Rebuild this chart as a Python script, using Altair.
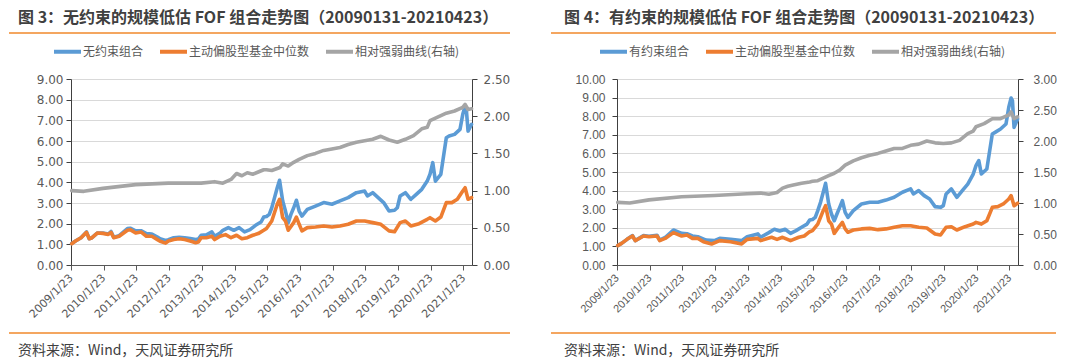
import altair as alt
import pandas as pd

CJK = "Noto Sans CJK SC"
BLUE, ORANGE, GRAY = "#5B9BD5", "#ED7D31", "#A5A5A5"
RULE_COLOR = "#F0892B"

TITLE_L = "图 3：无约束的规模低估 FOF 组合走势图（20090131-20210423）"
TITLE_R = "图 4：有约束的规模低估 FOF 组合走势图（20090131-20210423）"
SOURCE = "资料来源：Wind，天风证券研究所"
NAMES_L = ["无约束组合", "主动偏股型基金中位数", "相对强弱曲线(右轴)"]
NAMES_R = ["有约束组合", "主动偏股型基金中位数", "相对强弱曲线(右轴)"]
YEARS = list(range(2009, 2022))

# ---------------- left panel (图3) ----------------
L_BLUE_D = ["2009-01-31", "2009-03", "2009-05", "2009-07", "2009-08", "2009-09", "2009-11",
            "2010-01", "2010-03", "2010-04", "2010-05", "2010-07", "2010-10", "2010-11",
            "2011-01", "2011-03", "2011-05", "2011-07", "2011-09", "2011-10", "2011-12",
            "2012-01", "2012-03", "2012-05", "2012-07", "2012-09", "2012-11", "2012-12",
            "2013-01", "2013-03", "2013-05", "2013-06", "2013-08", "2013-09", "2013-11",
            "2014-01", "2014-03", "2014-05", "2014-07", "2014-09", "2014-11", "2014-12",
            "2015-01", "2015-02", "2015-03", "2015-04", "2015-05", "2015-06-10", "2015-07",
            "2015-08", "2015-09", "2015-10", "2015-11", "2015-12",
            "2016-01", "2016-02", "2016-04", "2016-07", "2016-10",
            "2017-01", "2017-04", "2017-07", "2017-10",
            "2018-01", "2018-02", "2018-04", "2018-06", "2018-08", "2018-10", "2018-12",
            "2019-01", "2019-02", "2019-04", "2019-06", "2019-08", "2019-10", "2019-12",
            "2020-01", "2020-02", "2020-03", "2020-05", "2020-07", "2020-08", "2020-10", "2020-12",
            "2021-01", "2021-02-10", "2021-02-25", "2021-03", "2021-04-23"]
L_BLUE_V = [1.04, 1.16, 1.32, 1.60, 1.27, 1.32, 1.55,
            1.55, 1.50, 1.62, 1.34, 1.42, 1.76, 1.78,
            1.65, 1.66, 1.52, 1.50, 1.35, 1.27, 1.19,
            1.22, 1.32, 1.34, 1.32, 1.28, 1.23, 1.26,
            1.44, 1.46, 1.60, 1.39, 1.55, 1.68, 1.81,
            1.68, 1.81, 1.60, 1.71, 1.92, 2.08, 2.32,
            2.35, 2.45, 2.77, 3.26, 3.74, 4.10, 3.10,
            2.61, 2.05, 2.45, 2.77, 3.13,
            2.61, 2.37, 2.69, 2.85, 3.02,
            2.94, 3.10, 3.26, 3.50,
            3.58, 3.34, 3.50, 3.26, 3.02, 2.61, 2.65,
            2.77, 3.34, 3.50, 3.18, 3.42, 3.66, 4.06,
            4.39, 4.95, 4.06, 4.39, 6.16, 6.24, 6.32, 6.56,
            7.29, 7.69, 7.45, 6.48, 6.81]

L_ORANGE_D = ["2009-01-31", "2009-03", "2009-05", "2009-07", "2009-08", "2009-09", "2009-11",
              "2010-01", "2010-03", "2010-04", "2010-05", "2010-07", "2010-10", "2010-11",
              "2011-01", "2011-03", "2011-05", "2011-07", "2011-09", "2011-10", "2011-12",
              "2012-01", "2012-03", "2012-05", "2012-07", "2012-09", "2012-11", "2012-12",
              "2013-01", "2013-03", "2013-05", "2013-06", "2013-08", "2013-10", "2013-12",
              "2014-02", "2014-04", "2014-06", "2014-08", "2014-10", "2014-12",
              "2015-01", "2015-03", "2015-05", "2015-06-10", "2015-07", "2015-08", "2015-09",
              "2015-11", "2015-12", "2016-01", "2016-02", "2016-04", "2016-07", "2016-10",
              "2017-01", "2017-04", "2017-07", "2017-10",
              "2018-01", "2018-04", "2018-07", "2018-10", "2018-12",
              "2019-02", "2019-04", "2019-06", "2019-09", "2019-12",
              "2020-01", "2020-03", "2020-05", "2020-07", "2020-09", "2020-11",
              "2021-01", "2021-02-10", "2021-03", "2021-04-23"]
L_ORANGE_V = [1.03, 1.16, 1.32, 1.58, 1.27, 1.32, 1.55,
              1.53, 1.48, 1.58, 1.32, 1.39, 1.68, 1.71,
              1.55, 1.60, 1.39, 1.39, 1.23, 1.15, 1.06,
              1.16, 1.23, 1.27, 1.23, 1.16, 1.08, 1.11,
              1.32, 1.32, 1.39, 1.23, 1.39, 1.47, 1.32,
              1.44, 1.27, 1.32, 1.44, 1.52, 1.68,
              1.77, 2.13, 2.94, 3.18, 2.29, 2.13, 1.68,
              2.05, 2.32, 1.97, 1.65, 1.81, 1.84, 1.89,
              1.84, 1.89, 1.97, 2.13,
              2.13, 2.05, 1.97, 1.65, 1.61,
              2.05, 2.13, 1.89, 2.00, 2.21,
              2.29, 2.13, 2.32, 3.02, 3.02, 3.18,
              3.58, 3.74, 3.18, 3.26]

L_GRAY_D = ["2009-01-31", "2009-06", "2010-01", "2011-01", "2012-01", "2013-01", "2013-06",
            "2013-09", "2013-12", "2014-02", "2014-04", "2014-06", "2014-08", "2014-10",
            "2014-12", "2015-01", "2015-03", "2015-06", "2015-07", "2015-09", "2015-11",
            "2016-01", "2016-04", "2016-07", "2016-10", "2017-01", "2017-04", "2017-07",
            "2017-10", "2018-01", "2018-04", "2018-07", "2018-10", "2019-01", "2019-04",
            "2019-07", "2019-10", "2019-12", "2020-01", "2020-04", "2020-07", "2020-10",
            "2021-01", "2021-02-10", "2021-03", "2021-04-23"]
L_GRAY_V = [1.00, 0.99, 1.03, 1.08, 1.10, 1.10, 1.12,
            1.10, 1.15, 1.23, 1.20, 1.24, 1.22, 1.25,
            1.28, 1.28, 1.27, 1.31, 1.36, 1.33, 1.38,
            1.42, 1.47, 1.50, 1.54, 1.56, 1.58, 1.62,
            1.65, 1.67, 1.69, 1.73, 1.68, 1.65, 1.69,
            1.74, 1.83, 1.85, 1.94, 1.99, 2.04, 2.07,
            2.12, 2.16, 2.09, 2.10]

# ---------------- right panel (图4) ----------------
R_BLUE_D = ["2009-01-31", "2009-03", "2009-05", "2009-07", "2009-08", "2009-11",
            "2010-01", "2010-04", "2010-05", "2010-07", "2010-10",
            "2011-01", "2011-03", "2011-05", "2011-07", "2011-10",
            "2012-01", "2012-03", "2012-07", "2012-11",
            "2013-01", "2013-05", "2013-06", "2013-09", "2013-11",
            "2014-01", "2014-03", "2014-05", "2014-07", "2014-09", "2014-11", "2014-12",
            "2015-01", "2015-02", "2015-03", "2015-04", "2015-05", "2015-06-10", "2015-07",
            "2015-08", "2015-09", "2015-10", "2015-11", "2015-12",
            "2016-01", "2016-02", "2016-04", "2016-07", "2016-10",
            "2017-01", "2017-04", "2017-07", "2017-10",
            "2018-01", "2018-02", "2018-04", "2018-06", "2018-08", "2018-10", "2018-12",
            "2019-01", "2019-02", "2019-04", "2019-06", "2019-08", "2019-10", "2019-12",
            "2020-01", "2020-02", "2020-03", "2020-05", "2020-07", "2020-08", "2020-10", "2020-12",
            "2021-01", "2021-02-10", "2021-02-25", "2021-03", "2021-04-23"]
R_BLUE_V = [1.04, 1.16, 1.38, 1.58, 1.31, 1.58,
            1.55, 1.60, 1.34, 1.48, 1.88,
            1.70, 1.68, 1.56, 1.52, 1.34,
            1.31, 1.43, 1.38, 1.31,
            1.52, 1.67, 1.49, 1.74, 1.92,
            1.83, 1.92, 1.70, 1.85, 2.03, 2.20, 2.42,
            2.45, 2.56, 2.92, 3.37, 3.91, 4.39, 3.28,
            2.74, 2.38, 2.74, 3.10, 3.46,
            2.83, 2.56, 2.92, 3.28, 3.37,
            3.37, 3.49, 3.64, 3.91,
            4.09, 3.82, 4.00, 3.73, 3.55, 3.14, 3.10,
            3.19, 3.82, 4.09, 3.64, 4.00, 4.35, 4.89,
            5.34, 5.61, 4.89, 5.16, 7.04, 7.13, 7.31, 7.58,
            8.48, 8.98, 8.84, 7.40, 7.85]

R_ORANGE_D = ["2009-01-31", "2009-03", "2009-05", "2009-07", "2009-08", "2009-11",
              "2010-01", "2010-04", "2010-05", "2010-07", "2010-10",
              "2011-01", "2011-03", "2011-05", "2011-07", "2011-09", "2011-12",
              "2012-03", "2012-07", "2012-11",
              "2013-01", "2013-05", "2013-06", "2013-10", "2013-12",
              "2014-02", "2014-05", "2014-08", "2014-10", "2014-12",
              "2015-01", "2015-03", "2015-05", "2015-06-10", "2015-07", "2015-08", "2015-09",
              "2015-11", "2015-12", "2016-01", "2016-02", "2016-04", "2016-07", "2016-10",
              "2017-01", "2017-04", "2017-07", "2017-10",
              "2018-01", "2018-04", "2018-07", "2018-10", "2018-12",
              "2019-02", "2019-04", "2019-06", "2019-09", "2019-12",
              "2020-01", "2020-03", "2020-05", "2020-07", "2020-09", "2020-11",
              "2021-01", "2021-02-10", "2021-03", "2021-04-23"]
R_ORANGE_V = [1.04, 1.16, 1.38, 1.56, 1.31, 1.56,
              1.52, 1.56, 1.31, 1.43, 1.74,
              1.56, 1.61, 1.43, 1.43, 1.25, 1.13,
              1.31, 1.25, 1.13,
              1.38, 1.43, 1.31, 1.49, 1.38,
              1.49, 1.31, 1.49, 1.56, 1.79,
              1.85, 2.20, 2.92, 3.19, 2.38, 2.20, 1.70,
              2.11, 2.29, 1.94, 1.76, 1.88, 1.94, 1.97,
              1.90, 1.94, 2.03, 2.11,
              2.11, 2.03, 1.99, 1.67, 1.61,
              2.03, 2.06, 1.88, 2.06, 2.20,
              2.29, 2.20, 2.38, 3.10, 3.14, 3.28,
              3.55, 3.73, 3.19, 3.32]

R_GRAY_D = ["2009-01-31", "2009-06", "2010-01", "2011-01", "2012-01", "2013-01", "2013-06",
            "2013-09", "2013-12", "2014-02", "2014-04", "2014-06", "2014-09", "2014-12",
            "2015-01", "2015-03", "2015-06", "2015-07", "2015-09", "2015-11",
            "2016-01", "2016-04", "2016-07", "2016-10", "2017-01", "2017-04", "2017-07",
            "2017-10", "2018-01", "2018-04", "2018-07", "2018-10", "2019-01", "2019-04",
            "2019-07", "2019-10", "2019-12", "2020-01", "2020-04", "2020-07", "2020-10",
            "2021-01", "2021-02-10", "2021-03", "2021-04-23"]
R_GRAY_V = [1.01, 1.00, 1.05, 1.10, 1.12, 1.15, 1.16,
            1.14, 1.17, 1.24, 1.27, 1.29, 1.32, 1.34,
            1.35, 1.36, 1.42, 1.44, 1.48, 1.53,
            1.61, 1.68, 1.73, 1.77, 1.80, 1.84, 1.88,
            1.88, 1.93, 1.95, 2.00, 1.97, 1.96, 1.97,
            2.01, 2.12, 2.16, 2.23, 2.28, 2.36, 2.36,
            2.42, 2.47, 2.36, 2.39]


def frame(dates, values, name):
    full = [d if len(d) > 7 else d + "-15" for d in dates]
    return pd.DataFrame({"date": full, "value": values, "series": name})


def panel(title, names, blue, orange, gray, ymax, rmax, rstep, tick_font, tick_size, lpad, x0):
    color = alt.Color(
        "series:N",
        scale=alt.Scale(domain=names, range=[BLUE, ORANGE, GRAY]),
        legend=alt.Legend(
            orient="none", legendX=-19, legendY=-43, direction="horizontal",
            title=None, symbolType="stroke", symbolSize=729, symbolStrokeWidth=4,
            labelFont=CJK, labelFontSize=12, labelColor="#595959",
            columnPadding=8, labelOffset=0, symbolOffset=0, padding=0,
        ),
    )
    xenc = alt.X(
        "date:T",
        scale=alt.Scale(domain=[alt.DateTime(year=2009, month=1, date=23),
                                alt.DateTime(year=2021, month=4, date=28)]),
        axis=alt.Axis(
            values=[alt.DateTime(year=y, month=1, date=23) for y in YEARS],
            format="%Y/%-m/%-d", labelAngle=-45, labelAlign="right", labelBaseline="middle",
            labelFont=tick_font, labelFontSize=11, labelColor="#595959",
            labelOverlap=False, labelFlush=False, labelBound=False, labelPadding=6,
            domainColor="#595959", tickColor="#595959", tickSize=5, grid=False, title=None,
        ),
    )
    yleft = alt.Y(
        "value:Q",
        scale=alt.Scale(domain=[0, ymax], nice=False, zero=True),
        axis=alt.Axis(
            values=list(range(0, ymax + 1)), format=".2f", grid=True, gridColor="#d9d9d9",
            domainColor="#404040", tickColor="#404040", tickSize=5,
            labelFont=tick_font, labelFontSize=tick_size, labelColor="#595959",
            labelPadding=lpad, title=None,
        ),
    )
    rvals = [round(i * rstep, 2) for i in range(int(round(rmax / rstep)) + 1)]
    yright = alt.Y(
        "value:Q",
        scale=alt.Scale(domain=[0, rmax], nice=False, zero=True),
        axis=alt.Axis(
            orient="right", values=rvals, format=".2f", grid=False,
            domainColor="#404040", tickColor="#404040", tickSize=5,
            labelFont=tick_font, labelFontSize=tick_size, labelColor="#595959",
            labelPadding=lpad + 3, title=None,
        ),
    )
    line = dict(strokeWidth=3.6, strokeJoin="round", strokeCap="round")
    b = alt.Chart(blue).mark_line(**line).encode(x=xenc, y=yleft, color=color)
    o = alt.Chart(orange).mark_line(**line).encode(x=xenc, y=yleft, color=color)
    g = alt.Chart(gray).mark_line(**line).encode(x=xenc, y=yright, color=color)

    one = pd.DataFrame({"t": [title]})
    src = pd.DataFrame({"t": [SOURCE]})
    t = alt.Chart(one).mark_text(
        font=CJK, fontSize=16, fontWeight="bold", color="#404040", align="left", baseline="top"
    ).encode(text="t:N", x=alt.value(-53), y=alt.value(-69))
    s = alt.Chart(src).mark_text(
        font=CJK, fontSize=14, color="#404040", align="left", baseline="middle"
    ).encode(text="t:N", x=alt.value(-53), y=alt.value(272))
    top = alt.Chart(one).mark_rule(color="white", strokeWidth=1).encode(
        x=alt.value(0), x2=alt.value(10), y=alt.value(-70))
    r1 = alt.Chart(one).mark_rule(color=RULE_COLOR, strokeWidth=1.5).encode(
        x=alt.value(x0), x2=alt.value(439), y=alt.value(-46))
    r2 = alt.Chart(one).mark_rule(color=RULE_COLOR, strokeWidth=1.5).encode(
        x=alt.value(x0), x2=alt.value(439), y=alt.value(254))

    return (
        alt.layer(alt.layer(b, o), g, top, t, s, r1, r2)
        .resolve_scale(y="independent")
        .properties(width=401, height=186)
    )


left = panel(TITLE_L, NAMES_L,
             frame(L_BLUE_D, L_BLUE_V, NAMES_L[0]),
             frame(L_ORANGE_D, L_ORANGE_V, NAMES_L[1]),
             frame(L_GRAY_D, L_GRAY_V, NAMES_L[2]),
             9, 2.5, 0.5, "DejaVu Sans", 12, 3, -62)
right = panel(TITLE_R, NAMES_R,
              frame(R_BLUE_D, R_BLUE_V, NAMES_R[0]),
              frame(R_ORANGE_D, R_ORANGE_V, NAMES_R[1]),
              frame(R_GRAY_D, R_GRAY_V, NAMES_R[2]),
              10, 3.0, 0.5, "Liberation Sans", 12, 7, -66)

chart = (
    alt.hconcat(left, right, spacing=145, bounds="flush")
    .resolve_scale(color="independent")
    .properties(padding=0, background="white")
    .configure_view(stroke=None)
)

chart.save("out.html", embed_options={"renderer": "svg", "actions": False})
